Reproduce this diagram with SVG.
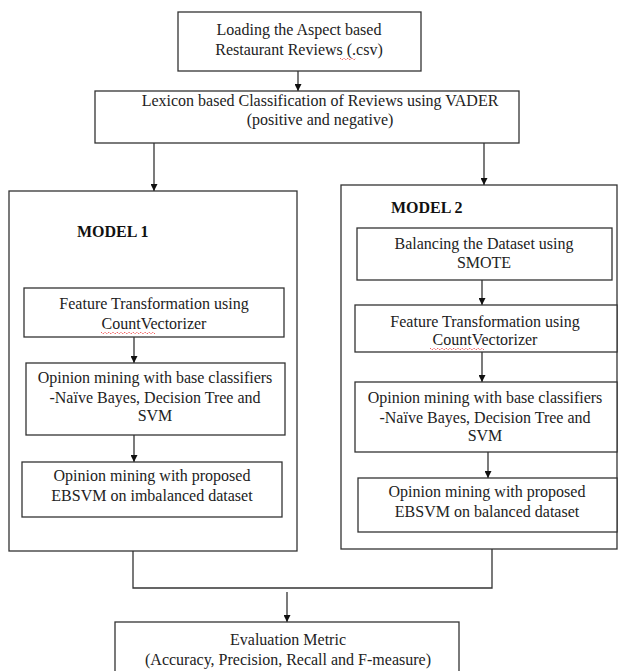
<svg xmlns="http://www.w3.org/2000/svg" width="618" height="671" viewBox="0 0 618 671">
<defs>
<style>
.box{fill:#fff;stroke:#333;stroke-width:1.3}
.t{font-family:"Liberation Serif","Times New Roman",serif;font-size:16px;fill:#222;text-anchor:middle}
.b{font-family:"Liberation Serif","Times New Roman",serif;font-size:16px;font-weight:bold;fill:#111}
.ln{fill:none;stroke:#333;stroke-width:1.3}
.sq{fill:none;stroke:#e33;stroke-width:0.8;stroke-dasharray:1.5 1}
</style>
<marker id="ah" viewBox="0 0 10 10" refX="10" refY="5" markerWidth="7" markerHeight="7" markerUnits="userSpaceOnUse" orient="auto">
<path d="M0,0 L10,5 L0,10 z" fill="#111"/>
</marker>
</defs>
<rect width="618" height="671" fill="#fff"/>

<g id="model1">
<rect class="box" x="9" y="191" width="288" height="360"/>
<text class="b" x="77" y="237">MODEL 1</text>
</g>
<g id="model2">
<rect class="box" x="341" y="185" width="276" height="364"/>
<text class="b" x="391" y="213">MODEL 2</text>
</g>

<g id="connectors">
<line class="ln" x1="298" y1="71" x2="298" y2="91" marker-end="url(#ah)"/>
<line class="ln" x1="154" y1="143" x2="154" y2="191" marker-end="url(#ah)"/>
<line class="ln" x1="484" y1="143" x2="484" y2="185" marker-end="url(#ah)"/>
<line class="ln" x1="134" y1="337" x2="134" y2="363" marker-end="url(#ah)"/>
<line class="ln" x1="134" y1="435" x2="134" y2="462" marker-end="url(#ah)"/>
<line class="ln" x1="482" y1="280" x2="482" y2="305" marker-end="url(#ah)"/>
<line class="ln" x1="482" y1="352" x2="482" y2="382" marker-end="url(#ah)"/>
<line class="ln" x1="488" y1="452" x2="488" y2="478" marker-end="url(#ah)"/>
<path class="ln" d="M133,551 V588 H492 V549"/>
<line class="ln" x1="287" y1="592" x2="287" y2="622" marker-end="url(#ah)"/>
</g>

<g id="load">
<rect class="box" x="178" y="12" width="243" height="59"/>
<text class="t" x="299" y="35">Loading the Aspect based</text>
<text class="t" x="299" y="55">Restaurant Reviews (.csv)</text>
<path class="sq" d="M340,58 l2,2 l2,-2 l2,2 l2,-2 l2,2 l2,-2 l2,2 l2,-2"/>
</g>

<g id="lexicon">
<rect class="box" x="95" y="91" width="424" height="52"/>
<text class="t" x="320" y="106">Lexicon based Classification of Reviews using VADER</text>
<text class="t" x="320" y="125">(positive and negative)</text>
</g>

<g id="m1feature">
<rect class="box" x="24" y="288" width="260" height="49"/>
<text class="t" x="154" y="309">Feature Transformation using</text>
<text class="t" x="154" y="329">CountVectorizer</text>
<path class="sq" d="M101,332 l2,2 l2,-2 l2,2 l2,-2 l2,2 l2,-2 l2,2 l2,-2 l2,2 l2,-2 l2,2 l2,-2 l2,2 l2,-2 l2,2 l2,-2 l2,2 l2,-2 l2,2 l2,-2 l2,2 l2,-2 l2,2 l2,-2 l2,2 l2,-2 l2,2"/>
</g>

<g id="m1base">
<rect class="box" x="26" y="363" width="259" height="72"/>
<text class="t" x="155" y="383">Opinion mining with base classifiers</text>
<text class="t" x="155" y="403">-Naïve Bayes, Decision Tree and</text>
<text class="t" x="155" y="421">SVM</text>
</g>

<g id="m1ebsvm">
<rect class="box" x="22" y="462" width="260" height="55"/>
<text class="t" x="152" y="481">Opinion mining with proposed</text>
<text class="t" x="152" y="501">EBSVM on imbalanced dataset</text>
</g>

<g id="m2smote">
<rect class="box" x="357" y="228" width="255" height="52"/>
<text class="t" x="484" y="249">Balancing the Dataset using</text>
<text class="t" x="484" y="268">SMOTE</text>
</g>

<g id="m2feature">
<rect class="box" x="355" y="305" width="262" height="47"/>
<text class="t" x="485" y="327">Feature Transformation using</text>
<text class="t" x="485" y="345">CountVectorizer</text>
<path class="sq" d="M430,348 l2,2 l2,-2 l2,2 l2,-2 l2,2 l2,-2 l2,2 l2,-2 l2,2 l2,-2 l2,2 l2,-2 l2,2 l2,-2 l2,2 l2,-2 l2,2 l2,-2 l2,2 l2,-2 l2,2 l2,-2 l2,2 l2,-2 l2,2 l2,-2 l2,2"/>
</g>

<g id="m2base">
<rect class="box" x="355" y="382" width="262" height="70"/>
<text class="t" x="485" y="403">Opinion mining with base classifiers</text>
<text class="t" x="485" y="423">-Naïve Bayes, Decision Tree and</text>
<text class="t" x="485" y="441">SVM</text>
</g>

<g id="m2ebsvm">
<rect class="box" x="358" y="478" width="259" height="54"/>
<text class="t" x="487" y="497">Opinion mining with proposed</text>
<text class="t" x="487" y="517">EBSVM on balanced dataset</text>
</g>

<g id="eval">
<rect class="box" x="115" y="622" width="344" height="52"/>
<text class="t" x="288" y="645">Evaluation Metric</text>
<text class="t" x="288" y="665">(Accuracy, Precision, Recall and F-measure)</text>
</g>
</svg>
